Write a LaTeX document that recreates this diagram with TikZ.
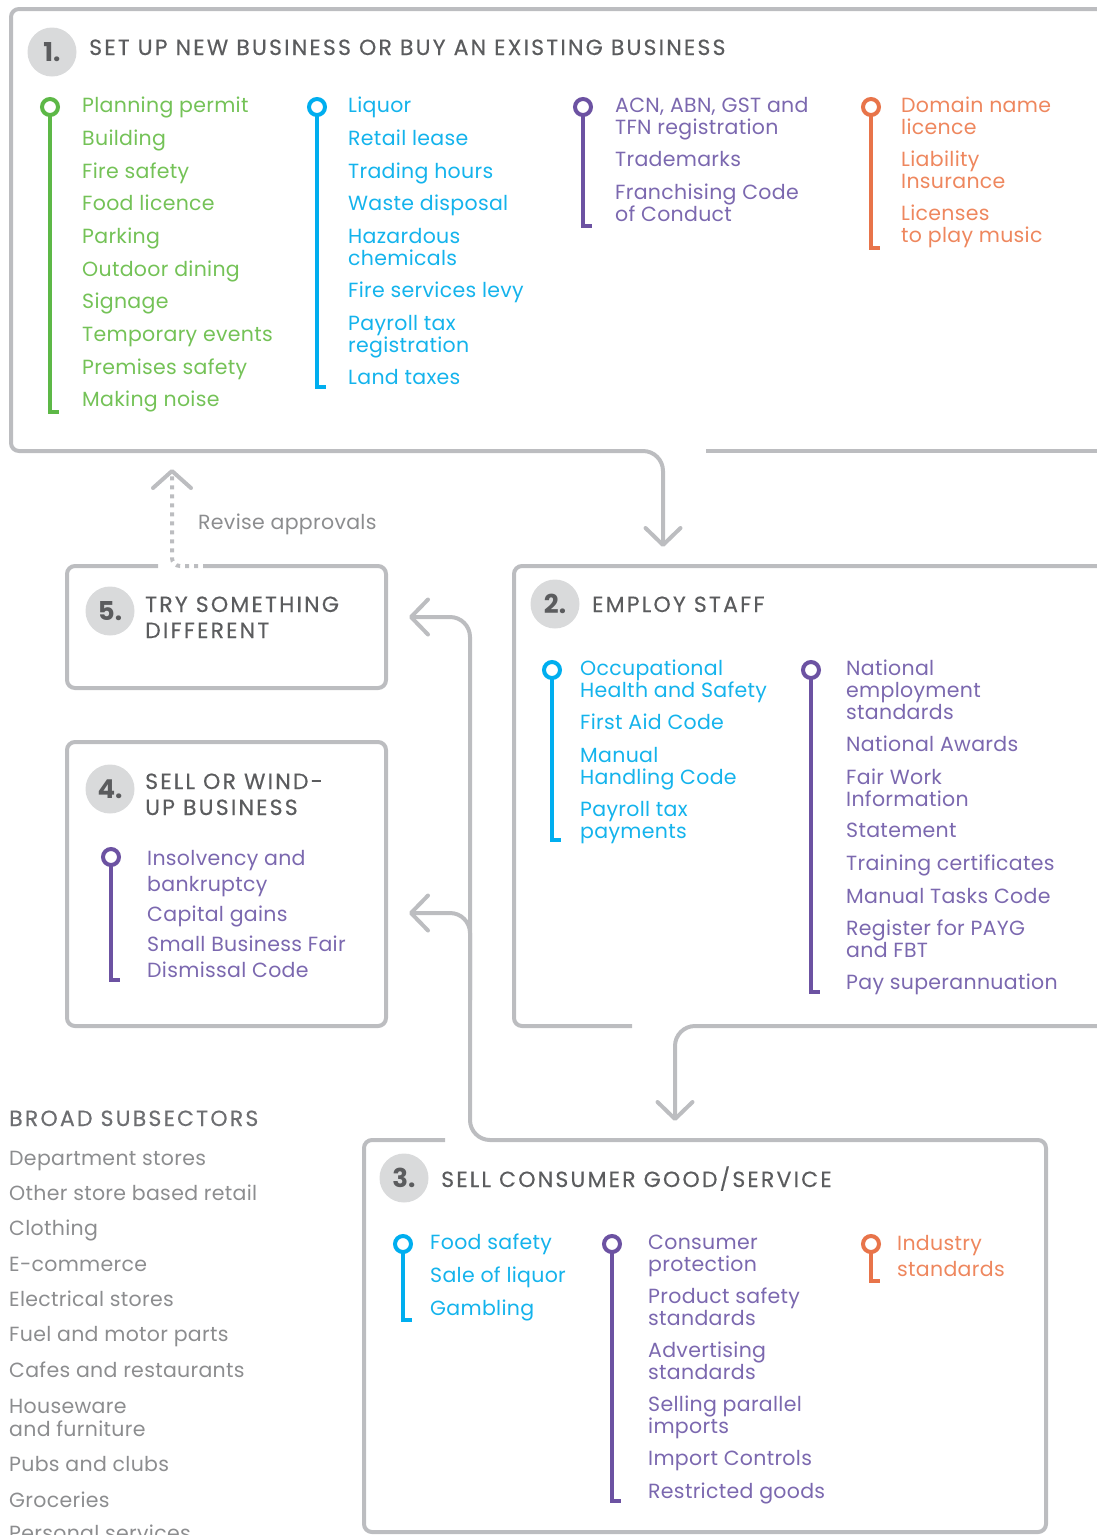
\documentclass[tikz,border=0pt]{standalone}
\usepackage{fontspec}
\setmainfont{Poppins}
\newfontfamily\headfam[LetterSpace=10,FakeBold=0.3]{Poppins}
\newfontfamily\itemfam[LetterSpace=1.5]{Poppins}
\usetikzlibrary{arrows.meta}
\definecolor{boxgray}{HTML}{BCBDC0}
\definecolor{numfill}{HTML}{D9DADB}
\definecolor{headtext}{HTML}{5B5C5E}
\definecolor{gline}{HTML}{5DB847}
\definecolor{gtxt}{HTML}{74C257}
\definecolor{cline}{HTML}{00AEEF}
\definecolor{ctxt}{HTML}{14B3EC}
\definecolor{pline}{HTML}{6C52A2}
\definecolor{ptxt}{HTML}{7B68AF}
\definecolor{oline}{HTML}{E8744A}
\definecolor{otxt}{HTML}{EE875E}
\definecolor{subhead}{HTML}{6D6E71}
\definecolor{subtxt}{HTML}{8C8D8F}
\newcommand\vstr{\rule{0pt}{15pt}}
\newcommand\itemfont{\itemfam\fontsize{20.5}{22}\selectfont}
\newcommand\itemfontw{\itemfam\fontsize{20.5}{26}\selectfont}
\newcommand\itemfonts{\itemfam\fontsize{20.5}{23}\selectfont}
\newcommand\headfont{\headfam\fontsize{22}{26}\selectfont}
\newcommand\numfont{\fontsize{26}{28}\selectfont\bfseries}
\newcommand\listpin[4]{%
  \draw[line width=4pt,#4,line join=miter] (#1,#2+8) -- (#1,#3) -- (#1+9,#3);
  \draw[line width=4pt,#4,fill=white] (#1,#2) circle[radius=8pt];}
\begin{document}
\begin{tikzpicture}[x=1pt,y=-1pt,
  itm/.style={anchor=north west,inner sep=0pt,align=left,font=\itemfont},
  itmw/.style={itm,font=\itemfontw},
  itms/.style={itm,font=\itemfonts,text=subtxt},
  head/.style={anchor=base west,inner sep=0pt,font=\headfont,text=headtext},
  numc/.style={circle,fill=numfill,minimum size=49pt,inner sep=0pt,font=\numfont,text=headtext},
  boxline/.style={line width=4pt,draw=boxgray,rounded corners=8pt},
  conn/.style={line width=4pt,draw=boxgray,rounded corners=20pt,-{Straight Barb[round,length=17pt,width=35pt]}},
]
\useasboundingbox (0,0) rectangle (1097,1535);
\clip (0,0) rectangle (1097,1535);

% ---------- coordinates for connectors
\coordinate (b1out) at (600,451);
\coordinate (b2in) at (663,547);
\coordinate (b2out) at (1110,1026);
\coordinate (b3in) at (675,1121);
\coordinate (b3out) at (1000,1140);
\coordinate (bend) at (470,1140);
\coordinate (b5in) at (409,617);
\coordinate (brj) at (470,1000);
\coordinate (b4in) at (409,913);
\coordinate (b5out) at (207,566);
\coordinate (b1in) at (172,469);

% ---------- box outlines
\draw[boxline] (1110,9) -- (11,9) -- (11,451) -- (b1out);
\draw[line width=4pt,draw=boxgray] (706,451) -- (1110,451);
\draw[boxline] (1110,566) -- (514,566) -- (514,1026) -- (632,1026);
\draw[boxline] (445,1140) -- (364,1140) -- (364,1532) -- (1046,1532) -- (1046,1140) -- (b3out);
\draw[boxline] (67,742) rectangle (386,1026);
\draw[boxline] (158,566) -- (67,566) -- (67,688) -- (386,688) -- (386,566) -- (b5out);

% ---------- connectors
\draw[conn] (b1out) -- (b1out -| b2in) -- (b2in);
\draw[conn] (b2out) -- (b2out -| b3in) -- (b3in);
\draw[conn] (b3out) -- (bend) -- (bend |- b5in) -- (b5in);
\draw[conn] (brj) -- (brj |- b4in) -- (b4in);
\draw[line width=4pt,draw=boxgray,rounded corners=8pt,dash pattern=on 4pt off 5pt,
  -{Straight Barb[round,length=17pt,width=38pt]}] (b5out) -- (b5out -| b1in) -- (b1in);
\node[anchor=base west,inner sep=0pt,font=\itemfont,text=subtxt] (rev) at (198,529) {Revise approvals};

% ---------- numbers and headings
\node[numc] (n1) at (52,52) {1.};
\node[head] (h1) at (89,55) {SET UP NEW BUSINESS OR BUY AN EXISTING BUSINESS};
\node[numc] (n2) at (555,604) {2.};
\node[head] (h2) at (592,612) {EMPLOY STAFF};
\node[numc] (n5) at (110,611) {5.};
\node[head] (h5a) at (145,612) {TRY SOMETHING};
\node[head] (h5b) at (145,638) {DIFFERENT};
\node[numc] (n4) at (110,789) {4.};
\node[head] (h4a) at (145,789) {SELL OR WIND-};
\node[head] (h4b) at (145,815) {UP BUSINESS};
\node[numc] (n3) at (404,1178) {3.};
\node[head] (h3) at (441,1187) {SELL CONSUMER GOOD/SERVICE};

% ---------- box 1 lists
\listpin{50}{107}{412}{gline}
\node[itm,text=gtxt] (g1) at (82,97) {\vstr Planning permit};
\node[itm,text=gtxt] (g2) at (82,130) {\vstr Building};
\node[itm,text=gtxt] (g3) at (82,163) {\vstr Fire safety};
\node[itm,text=gtxt] (g4) at (82,195) {\vstr Food licence};
\node[itm,text=gtxt] (g5) at (82,228) {\vstr Parking};
\node[itm,text=gtxt] (g6) at (82,261) {\vstr Outdoor dining};
\node[itm,text=gtxt] (g7) at (82,293) {\vstr Signage};
\node[itm,text=gtxt] (g8) at (82,326) {\vstr Temporary events};
\node[itm,text=gtxt] (g9) at (82,359) {\vstr Premises safety};
\node[itm,text=gtxt] (g10) at (82,391) {\vstr Making noise};

\listpin{317}{107}{387}{cline}
\node[itm,text=ctxt] (c1) at (348,97) {\vstr Liquor};
\node[itm,text=ctxt] (c2) at (348,130) {\vstr Retail lease};
\node[itm,text=ctxt] (c3) at (348,163) {\vstr Trading hours};
\node[itm,text=ctxt] (c4) at (348,195) {\vstr Waste disposal};
\node[itm,text=ctxt] (c5) at (348,228) {\vstr Hazardous\\chemicals};
\node[itm,text=ctxt] (c6) at (348,282) {\vstr Fire services levy};
\node[itm,text=ctxt] (c7) at (348,315) {\vstr Payroll tax\\registration};
\node[itm,text=ctxt] (c8) at (348,369) {\vstr Land taxes};

\listpin{583}{107}{226}{pline}
\node[itm,text=ptxt] (p1) at (615,97) {\vstr ACN, ABN, GST and\\TFN registration};
\node[itm,text=ptxt] (p2) at (615,151) {\vstr Trademarks};
\node[itm,text=ptxt] (p3) at (615,184) {\vstr Franchising Code\\of Conduct};

\listpin{871}{107}{248}{oline}
\node[itm,text=otxt] (o1) at (901,97) {\vstr Domain name\\licence};
\node[itm,text=otxt] (o2) at (901,151) {\vstr Liability\\Insurance};
\node[itm,text=otxt] (o3) at (901,205) {\vstr Licenses\\to play music};

% ---------- box 2 lists
\listpin{552}{670}{840}{cline}
\node[itm,text=ctxt] (e1) at (580,660) {\vstr Occupational\\Health and Safety};
\node[itm,text=ctxt] (e2) at (580,714) {\vstr First Aid Code};
\node[itm,text=ctxt] (e3) at (580,747) {\vstr Manual\\Handling Code};
\node[itm,text=ctxt] (e4) at (580,801) {\vstr Payroll tax\\payments};

\listpin{811}{670}{992}{pline}
\node[itm,text=ptxt] (f1) at (846,660) {\vstr National\\employment\\standards};
\node[itm,text=ptxt] (f2) at (846,736) {\vstr National Awards};
\node[itm,text=ptxt] (f3) at (846,769) {\vstr Fair Work\\Information};
\node[itm,text=ptxt] (f4) at (846,822) {\vstr Statement};
\node[itm,text=ptxt] (f5) at (846,855) {\vstr Training certificates};
\node[itm,text=ptxt] (f6) at (846,888) {\vstr Manual Tasks Code};
\node[itm,text=ptxt] (f7) at (846,920) {\vstr Register for PAYG\\and FBT};
\node[itm,text=ptxt] (f8) at (846,974) {\vstr Pay superannuation};

% ---------- box 4 list
\listpin{111}{857}{980}{pline}
\node[itmw,text=ptxt] (w1) at (147,850) {\vstr Insolvency and\\bankruptcy};
\node[itmw,text=ptxt] (w2) at (147,906) {\vstr Capital gains};
\node[itmw,text=ptxt] (w3) at (147,936) {\vstr Small Business Fair\\Dismissal Code};

% ---------- box 3 lists
\listpin{403}{1244}{1320}{cline}
\node[itm,text=ctxt] (s1) at (430,1234) {\vstr Food safety};
\node[itm,text=ctxt] (s2) at (430,1267) {\vstr Sale of liquor};
\node[itm,text=ctxt] (s3) at (430,1300) {\vstr Gambling};

\listpin{612}{1244}{1501}{pline}
\node[itm,text=ptxt] (t1) at (648,1234) {\vstr Consumer\\protection};
\node[itm,text=ptxt] (t2) at (648,1288) {\vstr Product safety\\standards};
\node[itm,text=ptxt] (t3) at (648,1342) {\vstr Advertising\\standards};
\node[itm,text=ptxt] (t4) at (648,1396) {\vstr Selling parallel\\imports};
\node[itm,text=ptxt] (t5) at (648,1450) {\vstr Import Controls};
\node[itm,text=ptxt] (t6) at (648,1483) {\vstr Restricted goods};

\listpin{871}{1244}{1281}{oline}
\node[itmw,text=otxt] (u1) at (897,1235) {\vstr Industry\\standards};

% ---------- broad subsectors
\node[head,text=subhead] (bs) at (9,1126) {BROAD SUBSECTORS};
\node[itms] (r1) at (9,1150) {\vstr Department stores};
\node[itms] (r2) at (9,1185) {\vstr Other store based retail};
\node[itms] (r3) at (9,1220) {\vstr Clothing};
\node[itms] (r4) at (9,1256) {\vstr E-commerce};
\node[itms] (r5) at (9,1291) {\vstr Electrical stores};
\node[itms] (r6) at (9,1326) {\vstr Fuel and motor parts};
\node[itms] (r7) at (9,1362) {\vstr Cafes and restaurants};
\node[itms] (r8) at (9,1398) {\vstr Houseware\\and furniture};
\node[itms] (r9) at (9,1456) {\vstr Pubs and clubs};
\node[itms] (r10) at (9,1492) {\vstr Groceries};
\node[itms] (r11) at (9,1525) {\vstr Personal services};
\end{tikzpicture}
\end{document}
